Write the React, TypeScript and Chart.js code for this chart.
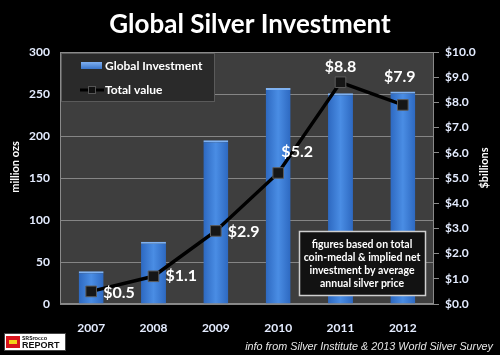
import React, { useEffect, useRef } from "react";
import { Chart, registerables } from "chart.js";

Chart.register(...registerables);

const years = ["2007", "2008", "2009", "2010", "2011", "2012"];
const investment = [39, 74, 195, 257, 251, 253];
const totalValue = [0.5, 1.1, 2.9, 5.2, 8.8, 7.9];
const leftTicks = [0, 50, 100, 150, 200, 250, 300];
const noteLines = [
  "figures based on total",
  "coin-medal & implied net",
  "investment by average",
  "annual silver price",
];
// label placement relative to each point: [dx, dy, align]
const labelPlacement: [number, number, CanvasTextAlign][] = [
  [12, 1, "left"],
  [12, 0, "left"],
  [12, 1, "left"],
  [19, -21, "center"],
  [0, -15, "center"],
  [-3, -28, "center"],
];

const FONT = "Lato, 'Open Sans', sans-serif";
const TICK_COLOR = "#e4ecff";

const decorPlugin = {
  id: "decor",
  beforeDraw(chart: any) {
    const { ctx, chartArea: a } = chart;
    ctx.save();
    ctx.fillStyle = "#000";
    ctx.fillRect(0, 0, chart.width, chart.height);
    ctx.fillStyle = "#3e3e3e";
    ctx.fillRect(a.left, a.top, a.right - a.left, a.bottom - a.top);
    // title
    ctx.fillStyle = "#fff";
    ctx.font = `bold 26px ${FONT}`;
    ctx.textAlign = "center";
    ctx.textBaseline = "middle";
    ctx.fillText("Global Silver Investment", 250, 25);
    // axis titles
    ctx.font = `bold 11px ${FONT}`;
    ctx.save();
    ctx.translate(15, 167);
    ctx.rotate(-Math.PI / 2);
    ctx.fillText("million ozs", 0, 0);
    ctx.restore();
    ctx.save();
    ctx.translate(484, 168);
    ctx.rotate(-Math.PI / 2);
    ctx.fillText("$billions", 0, 0);
    ctx.restore();
    // footer
    ctx.font = `italic 10.8px 'Liberation Sans', Arial, sans-serif`;
    ctx.fillStyle = "#e6e6e6";
    ctx.textAlign = "right";
    ctx.fillText("info from Silver Institute & 2013 World Silver Survey", 493, 347);
    // logo
    ctx.fillStyle = "#fff";
    ctx.fillRect(4, 333, 62, 18);
    ctx.strokeStyle = "#444";
    ctx.lineWidth = 1;
    ctx.strokeRect(4.5, 333.5, 61, 17);
    ctx.fillStyle = "#d8141c";
    ctx.fillRect(6, 336, 14, 12);
    ctx.fillStyle = "#f3d21a";
    ctx.fillRect(9, 340, 8, 4);
    ctx.fillStyle = "#111";
    ctx.textAlign = "left";
    ctx.font = `bold 6px ${FONT}`;
    ctx.fillText("SRSrocco", 22, 338);
    ctx.font = `bold 9px 'Liberation Sans', Arial, sans-serif`;
    ctx.fillText("REPORT", 22, 346);
    ctx.restore();
  },
  beforeDatasetsDraw(chart: any) {
    const { ctx, chartArea: a } = chart;
    ctx.save();
    ctx.strokeStyle = "#8a8a8a";
    ctx.lineWidth = 1;
    ctx.strokeRect(a.left + 0.5, a.top + 0.5, a.right - a.left - 1, a.bottom - a.top - 1);
    ctx.restore();
  },
  afterDatasetsDraw(chart: any) {
    const { ctx } = chart;
    const meta = chart.getDatasetMeta(0);
    ctx.save();
    // value labels
    ctx.font = `bold 16px ${FONT}`;
    ctx.fillStyle = "#fff";
    ctx.textBaseline = "middle";
    meta.data.forEach((pt: any, i: number) => {
      const [dx, dy, align] = labelPlacement[i];
      ctx.textAlign = align;
      ctx.fillText("$" + totalValue[i].toFixed(1), pt.x + dx, pt.y + dy);
    });
    // legend
    ctx.fillStyle = "#2a2a2a";
    ctx.fillRect(61, 53, 154, 49);
    ctx.strokeStyle = "#5a5a5a";
    ctx.lineWidth = 1;
    ctx.strokeRect(61.5, 53.5, 153, 48);
    const g = ctx.createLinearGradient(0, 62, 0, 70);
    g.addColorStop(0, "#7fb0f0");
    g.addColorStop(1, "#2f6cc4");
    ctx.fillStyle = g;
    ctx.fillRect(81, 62, 21, 7);
    ctx.strokeStyle = "#000";
    ctx.lineWidth = 3;
    ctx.beginPath();
    ctx.moveTo(80, 90);
    ctx.lineTo(104, 90);
    ctx.stroke();
    ctx.fillStyle = "#111";
    ctx.fillRect(88, 86, 8, 8);
    ctx.strokeStyle = "#555";
    ctx.lineWidth = 1;
    ctx.strokeRect(88.5, 86.5, 7, 7);
    ctx.fillStyle = "#fff";
    ctx.font = `bold 12px ${FONT}`;
    ctx.textAlign = "left";
    ctx.fillText("Global Investment", 105, 66);
    ctx.fillText("Total value", 105, 90);
    // note box
    ctx.fillStyle = "#121212";
    ctx.fillRect(299, 231, 127, 65);
    ctx.strokeStyle = "#cfcfcf";
    ctx.lineWidth = 1.5;
    ctx.strokeRect(299.5, 231.5, 126, 64);
    ctx.fillStyle = "#fff";
    ctx.font = `bold 10.5px ${FONT}`;
    ctx.textAlign = "center";
    noteLines.forEach((t, i) => ctx.fillText(t, 362, 245 + i * 12.8));
    ctx.restore();
  },
};

export default function App() {
  const ref = useRef<HTMLCanvasElement>(null);
  useEffect(() => {
    if (!ref.current) return;
    const chart = new Chart(ref.current, {
      type: "bar",
      data: {
        labels: years,
        datasets: [
          {
            type: "line",
            label: "Total value",
            data: totalValue,
            yAxisID: "y1",
            order: 0,
            borderColor: "#000",
            borderWidth: 3.5,
            pointStyle: "rect",
            pointRadius: 7.5,
            pointBackgroundColor: "#161616",
            pointBorderColor: "#5c5c5c",
            pointBorderWidth: 1,
            tension: 0,
          } as any,
          {
            type: "bar",
            label: "Global Investment",
            data: investment,
            yAxisID: "y",
            order: 1,
            categoryPercentage: 0.8,
            barPercentage: 0.5,
            borderColor: "#7fb2f2",
            borderWidth: { top: 2, left: 0, right: 0, bottom: 0 },
            borderSkipped: false,
            backgroundColor: (c: any) => {
              const chart = c.chart;
              const xs = chart.scales && chart.scales.x;
              if (!xs || xs.getPixelForValue(0) == null) return "#3a7bd5";
              const x = xs.getPixelForValue(c.dataIndex);
              if (!isFinite(x)) return "#3a7bd5";
              const g = chart.ctx.createLinearGradient(x - 13, 0, x + 13, 0);
              g.addColorStop(0, "#2c67bf");
              g.addColorStop(0.5, "#4a8de4");
              g.addColorStop(1, "#2c67bf");
              return g;
            },
          } as any,
        ],
      },
      options: {
        responsive: false,
        animation: false,
        layout: { padding: { top: 52, left: 0, right: 0, bottom: 0 } },
        plugins: { legend: { display: false }, tooltip: { enabled: false }, title: { display: false } },
        scales: {
          x: {
            grid: { display: false },
            border: { display: false },
            ticks: { color: TICK_COLOR, font: { family: FONT, size: 12, weight: "bold" }, padding: 9 },
            afterFit: (s: any) => { s.height = 51; },
          },
          y: {
            position: "left",
            min: 0,
            max: 300,
            afterBuildTicks: (s: any) => { s.ticks = leftTicks.map((v) => ({ value: v })); },
            grid: { color: "#858585", lineWidth: 1, drawTicks: false },
            border: { display: false },
            ticks: { color: TICK_COLOR, font: { family: FONT, size: 12, weight: "bold" }, padding: 10 },
            afterFit: (s: any) => { s.width = 60; },
          },
          y1: {
            position: "right",
            min: 0,
            max: 10,
            ticks: {
              stepSize: 1,
              color: TICK_COLOR,
              font: { family: FONT, size: 12, weight: "bold" },
              padding: 6,
              callback: (v: any) => "$" + Number(v).toFixed(1),
            },
            grid: { drawOnChartArea: false, drawTicks: true, tickLength: 5, color: "#8a8a8a" },
            border: { display: false },
            afterFit: (s: any) => { s.width = 66; },
          },
        },
      },
      plugins: [decorPlugin],
    });
    return () => chart.destroy();
  }, []);
  return (
    <div style={{ position: "absolute", left: 0, top: 0, width: 500, height: 355, background: "#000" }}>
      <canvas ref={ref} width={500} height={355} style={{ display: "block" }} />
    </div>
  );
}
